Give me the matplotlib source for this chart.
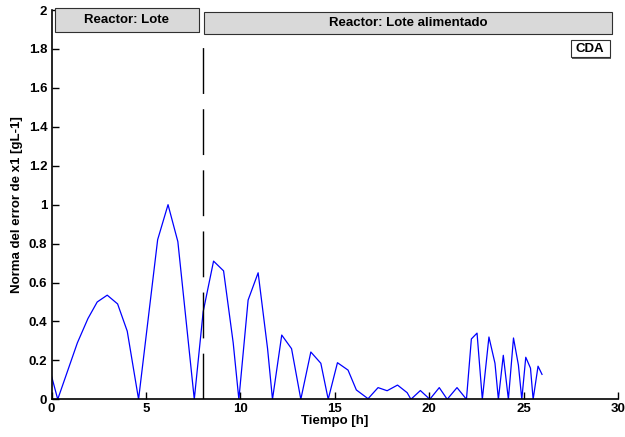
import matplotlib
matplotlib.use('Agg')
import matplotlib.pyplot as plt
from matplotlib.patches import Rectangle

plt.rcParams['font.family'] = ['Liberation Sans', 'DejaVu Sans']
plt.rcParams['font.weight'] = 'bold'
plt.rcParams['lines.scale_dashes'] = False

# tiempo [h] y norma del error de x1
tiempo = [0.0, 0.33, 1.37, 1.93, 2.42, 2.95, 3.5, 4.01, 4.61, 5.62, 6.17, 6.69, 7.56,
          8.03, 8.58, 9.11, 9.62, 9.92, 10.41, 10.94, 11.44, 11.7, 12.19, 12.71, 13.2,
          13.73, 14.26, 14.65, 15.14, 15.7, 16.14, 16.76, 17.29, 17.77, 18.32, 18.83,
          19.03, 19.53, 20.03, 20.53, 20.95, 21.47, 21.97, 22.23, 22.53, 22.81, 23.16,
          23.48, 23.66, 23.92, 24.19, 24.46, 24.72, 24.9, 25.11, 25.36, 25.5, 25.76, 25.97]
error = [0.12, 0.0, 0.29, 0.415, 0.50, 0.535, 0.49, 0.35, 0.0, 0.82, 1.0, 0.81, 0.0,
         0.45, 0.71, 0.66, 0.29, 0.0, 0.51, 0.65, 0.26, 0.0, 0.33, 0.26, 0.0,
         0.243, 0.185, 0.0, 0.188, 0.15, 0.048, 0.003, 0.06, 0.044, 0.073, 0.034,
         0.0, 0.045, 0.0, 0.06, 0.0, 0.06, 0.0, 0.31, 0.34, 0.0, 0.32,
         0.185, 0.0, 0.226, 0.0, 0.315, 0.176, 0.0, 0.216, 0.16, 0.0, 0.17, 0.128]

t_cambio = 8.0
xticks = [0, 5, 10, 15, 20, 25, 30]
yticks = [0, 0.2, 0.4, 0.6, 0.8, 1, 1.2, 1.4, 1.6, 1.8, 2]

fig = plt.figure(figsize=(6.25, 4.37), dpi=100)
ax = fig.add_axes([0.0824, 0.0863, 0.9066, 0.8907])

ax.plot(tiempo, error, color='#0000ff', lw=0.9)
ax.plot([t_cambio, t_cambio], [0, 1.81], color='black', lw=1.0, dashes=(33, 11))

ax.set_xlim(0, 30)
ax.set_ylim(0, 2)
ax.set_xticks(xticks)
ax.set_yticks(yticks)
ax.set_yticklabels(['%g' % v for v in yticks])
ax.tick_params(direction='in', length=5, width=1, labelsize=9.5, pad=3)
for lab in ax.get_xticklabels() + ax.get_yticklabels():
    lab.set_fontweight('bold')
ax.spines['top'].set_visible(False)
ax.spines['right'].set_visible(False)
ax.spines['left'].set_linewidth(1.2)
ax.spines['bottom'].set_linewidth(1.2)

ax.set_xlabel('Tiempo [h]', fontsize=9.5, fontweight='bold', labelpad=0)
ax.set_ylabel('Norma del error de x1 [gL-1]', fontsize=9.5, fontweight='bold', labelpad=4)

# cajas de texto
def caja(x0, x1, y0, y1, texto, fc):
    ax.add_patch(Rectangle((x0 + 0.08, y0 - 0.006), x1 - x0, y1 - y0, facecolor='#606060',
                           edgecolor='none', clip_on=False, zorder=4))
    ax.add_patch(Rectangle((x0, y0), x1 - x0, y1 - y0, facecolor=fc,
                           edgecolor='#303030', lw=0.8, clip_on=False, zorder=5))
    ax.text((x0 + x1) / 2, (y0 + y1) / 2, texto, ha='center', va='center',
            fontsize=9.5, fontweight='bold', zorder=6)

caja(0.19, 7.8, 1.887, 2.01, 'Reactor: Lote', '#d9d9d9')
caja(8.1, 29.65, 1.877, 1.99, 'Reactor: Lote alimentado', '#d9d9d9')
caja(27.5, 29.55, 1.757, 1.846, 'CDA', 'white')

fig.savefig('out.png', dpi=100)
